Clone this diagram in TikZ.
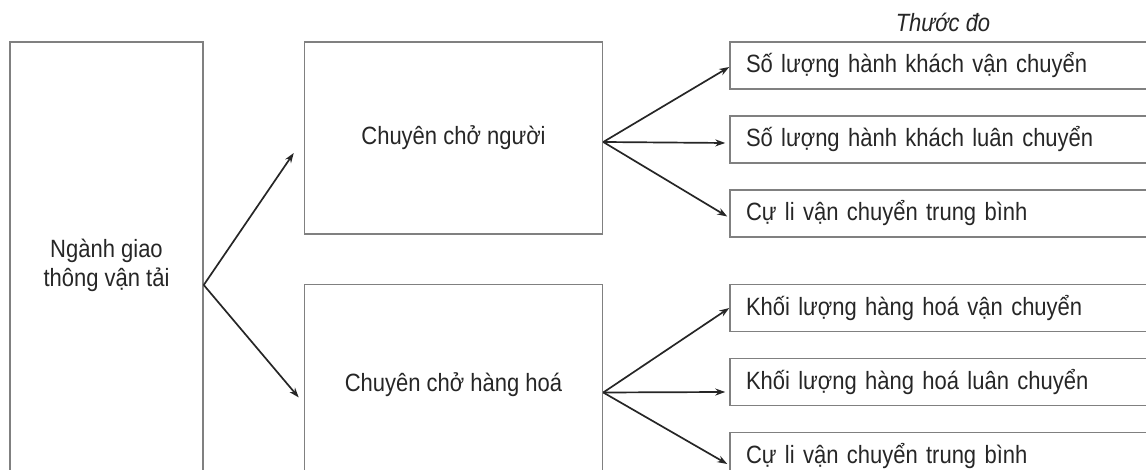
\documentclass[tikz,border=0pt]{standalone}
\usepackage{fontspec}
\setmainfont{Liberation Sans}[FakeStretch=0.88]
\usetikzlibrary{positioning,arrows.meta}

\begin{document}
\begin{tikzpicture}[x=1pt,y=1pt,
    font=\fontsize{25}{29}\selectfont,
    box/.style={draw=black!50,line width=1.5pt,text=black!85,inner sep=0pt},
    bigbox/.style={box,minimum width=193pt,minimum height=486pt},
    midbox/.style={box,minimum width=298pt,minimum height=192pt},
    smallbox/.style={box,text width=448pt,inner xsep=16pt,minimum height=47pt,align=left},
    arr/.style={-{Stealth[length=10pt,width=7pt]},line width=1.7pt,black!85}]
      \clip (0,0) rectangle (1146,470);
      \node[bigbox] (GTVT) at (106.5,185) {};
      \node[text=black!85,align=center] (GTVTtxt) at (106.5,205) {Ngành giao\\thông vận tải};
      \node[midbox,right=100pt of GTVT.north east,anchor=north west] (CCN) {Chuyên chở người};
      \node[midbox,below=49pt of CCN,minimum height=200pt] (CCHH) {Chuyên chở hàng hoá};
      \node[smallbox,right=126pt of CCN.north east,anchor=north west] (SLVC) {Số lượng hành khách vận chuyển};
      \node[smallbox,below=25.5pt of SLVC] (SLLC) {Số lượng hành khách luân chuyển};
      \node[smallbox,below=25.5pt of SLLC] (CLVCa) {Cự li vận chuyển trung bình};
      \node[smallbox,right=126pt of CCHH.north east,anchor=north west] (KLVC) {Khối lượng hàng hoá vận chuyển};
      \node[smallbox,below=25.5pt of KLVC] (KLLC) {Khối lượng hàng hoá luân chuyển};
      \node[smallbox,below=25.5pt of KLLC] (CLVCb) {Cự li vận chuyển trung bình};
      \node[font=\fontsize{25}{29}\itshape,text=black!85,anchor=base] (TD) at ([xshift=-27pt,yshift=10pt]SLVC.north) {Thước đo};
      \draw[arr] (GTVT.east) -- ([xshift=-10pt,yshift=-15pt]CCN.west);
      \draw[arr] (GTVT.east) -- ([xshift=-5pt,yshift=-13pt]CCHH.west);
      \draw[arr] ([yshift=-4pt]CCN.east) -- ([yshift=-1.5pt]SLVC.west);
      \draw[arr] ([yshift=-4pt]CCN.east) -- ([xshift=-4pt,yshift=-3.5pt]SLLC.west);
      \draw[arr] ([yshift=-4pt]CCN.east) -- ([xshift=-2pt,yshift=-3pt]CLVCa.west);
      \draw[arr] ([yshift=-8pt]CCHH.east) -- (KLVC.west);
      \draw[arr] ([yshift=-8pt]CCHH.east) -- ([xshift=-4pt,yshift=-10pt]KLLC.west);
      \draw[arr] ([yshift=-8pt]CCHH.east) -- ([xshift=-2pt,yshift=-8pt]CLVCb.west);
    \end{tikzpicture}
\end{document}
